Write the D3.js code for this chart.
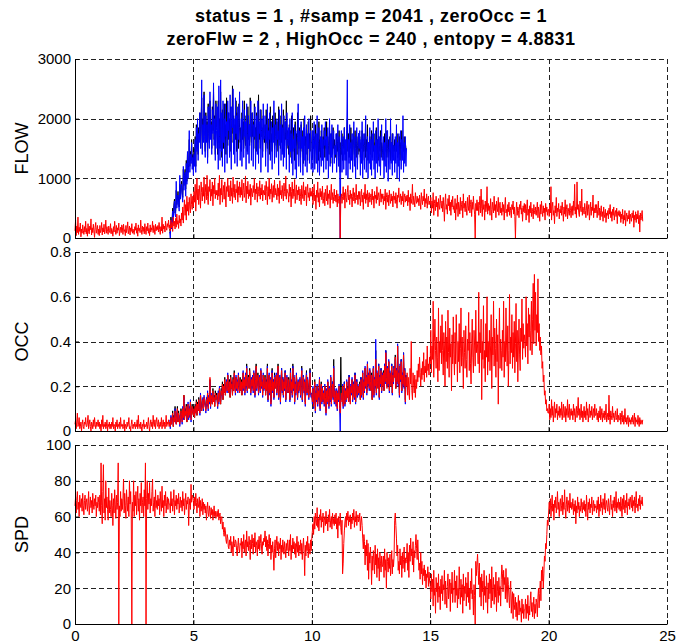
<!DOCTYPE html>
<html>
<head>
<meta charset="utf-8">
<script src="https://cdn.jsdelivr.net/npm/d3@7"></script>
<style>
  body { margin: 0; background: #fff; }
  svg text { font-family: "Liberation Sans", Arial, Helvetica, sans-serif; }
</style>
</head>
<body>
<div id="app"></div>
<script>
// sampling: one value every 0.025 h, red series start at 0 h, blue/black at 4 h
const dt = 0.025
const redStart = 0
const loopStart = 4

const titleLines = [
  'status = 1 , #samp = 2041 , zeroOcc = 1',
  'zeroFlw = 2 , HighOcc = 240 , entopy = 4.8831'
]

const xTicks = [0, 5, 10, 15, 20, 25]
const xTickLabels = ['0', '5', '10', '15', '20', '25']

const flowTicks = [0, 1000, 2000, 3000]
const flowTickLabels = ['0', '1000', '2000', '3000']
const occTicks = [0, 0.2, 0.4, 0.6, 0.8]
const occTickLabels = ['0', '0.2', '0.4', '0.6', '0.8']
const spdTicks = [0, 20, 40, 60, 80, 100]
const spdTickLabels = ['0', '20', '40', '60', '80', '100']

// FLOW, red, 0-24 h (one row per hour)
const flowRed = [
  120,300,40,200,90,350,60,180,110,250,20,150,80,220,130,60,190,100,280,70,160,30,240,110,70,200,140,320,50,170,90,230,120,10,180,260,80,140,210,60,
  150,40,210,90,130,260,50,170,100,230,70,140,300,80,190,110,60,200,130,90,240,70,160,120,30,190,100,280,140,60,210,80,170,130,250,40,120,180,90,220,
  180,60,230,110,140,40,210,90,160,270,70,130,200,50,170,110,240,80,150,100,60,190,130,250,80,170,30,220,120,160,90,300,140,60,200,110,180,70,240,130,
  60,190,120,250,80,160,40,220,100,170,130,280,90,210,150,60,230,120,190,140,210,100,260,140,60,190,120,350,80,230,150,200,100,280,170,130,240,190,300,160,
  220,120,300,170,260,110,350,200,280,150,330,180,400,230,290,160,380,250,320,200,420,300,520,250,480,640,380,560,300,700,450,600,380,680,520,420,740,560,480,700,
  520,780,600,900,450,720,1000,640,820,560,880,700,500,940,760,620,850,700,1020,580,760,900,640,1050,700,560,860,780,980,620,820,700,940,540,880,740,1000,660,800,720,
  800,640,920,700,1050,560,830,720,980,600,760,880,650,940,720,520,860,780,1000,690,880,740,620,960,700,840,580,1020,760,680,900,640,820,760,960,600,860,720,940,680,
  850,720,980,620,800,920,680,760,1040,590,870,740,950,660,810,700,900,550,830,760,690,880,760,1000,640,820,740,920,600,860,780,700,960,650,840,720,900,620,800,740,
  720,880,640,950,780,560,860,700,1000,650,820,740,910,600,790,880,680,970,720,830,760,640,900,700,840,580,960,720,800,660,880,740,620,920,780,700,1040,650,820,760,
  760,600,900,700,850,520,780,940,660,820,700,980,580,760,890,640,800,720,860,620,820,700,560,880,740,660,940,620,800,720,860,540,780,900,680,760,620,840,700,780,
  700,840,560,760,900,620,720,480,800,680,940,600,760,520,830,690,780,640,870,580,660,760,540,820,700,620,880,560,740,660,800,500,720,900,640,760,580,700,820,620,
  720,600,800,520,740,660,580,700,0,660,740,580,700,860,640,760,500,820,680,600,760,880,640,720,560,800,660,740,520,700,840,620,760,580,680,900,640,720,560,780,
  650,780,540,700,820,600,720,480,760,660,900,580,740,640,800,520,700,760,600,680,740,560,820,640,700,500,780,660,720,580,860,640,700,760,540,680,820,600,740,660,
  740,560,700,620,820,480,680,760,600,720,540,800,660,580,740,620,700,520,780,640,700,580,760,640,500,720,680,840,600,660,740,560,700,620,780,520,680,740,600,700,
  620,720,540,800,600,680,460,740,580,660,900,560,700,620,520,760,640,580,700,600,660,540,720,600,480,760,640,560,700,620,820,520,660,580,740,500,640,700,560,620,
  560,680,420,620,500,760,380,580,640,460,700,520,600,360,660,540,480,720,580,500,620,440,680,520,280,600,740,480,560,400,660,540,720,460,600,380,640,520,700,480,
  540,420,660,300,580,480,720,360,600,520,400,680,460,560,620,340,740,500,580,440,620,500,380,680,540,460,720,420,560,640,360,600,480,700,520,400,0,580,460,640,
  460,600,380,540,700,420,820,500,360,640,480,560,300,620,440,520,860,400,580,460,540,380,660,480,300,600,520,420,700,460,560,340,620,500,440,680,380,540,600,420,
  500,380,600,440,560,300,520,680,420,480,360,560,440,600,380,520,460,340,560,480,620,400,520,360,0,440,600,380,520,460,340,560,480,620,400,500,280,540,440,580,
  420,560,300,500,640,380,480,260,540,420,600,360,500,440,320,560,460,400,520,380,480,600,340,520,440,280,560,400,620,460,360,540,420,500,300,580,440,520,380,480,
  480,360,560,420,860,300,520,600,380,460,240,540,420,680,360,500,440,580,320,480,420,540,380,600,460,280,520,400,640,360,480,560,320,500,440,380,580,460,340,520,
  540,380,620,460,900,400,520,340,940,480,560,420,360,620,500,440,820,380,520,460,400,580,460,340,520,620,380,480,560,300,440,600,380,520,460,720,340,500,420,560,
  420,560,340,480,620,380,500,300,460,540,360,440,280,520,400,340,480,260,420,380,460,320,500,400,560,340,440,280,480,380,520,300,420,460,360,500,240,440,380,460,
  360,440,260,400,320,480,240,380,300,460,200,360,420,280,380,320,460,240,400,340,280,420,340,460,180,380,300,440,260,400,320,460,240,380,100,420,300,360,460,280
]

// FLOW, blue, 4-14 h
const flowBlue = [
  100,0,300,150,200,450,250,500,620,400,350,950,500,600,720,560,450,1050,650,800,900,700,600,1200,800,1000,1100,700,1250,900,1450,1000,1200,1800,1100,1400,1250,1600,1150,1350,
  1050,1400,1200,1650,1100,1850,1450,2000,1300,1750,1600,2100,1500,1800,2650,1400,1900,1600,2400,1700,1350,2050,1600,1900,1250,2200,1700,1500,2450,1650,1900,1400,2150,1750,2600,1550,2000,1300,2250,1800,
  1500,2200,1150,2550,1700,1300,2650,1450,2100,1200,2300,1600,2000,1100,2250,1700,1950,1250,2300,1800,2100,1350,2400,1700,1150,2200,1850,2500,1400,2000,1250,2350,1750,2050,1200,2200,1650,1950,2450,1300,
  1650,2000,1200,2300,1800,1350,2150,1700,1950,1150,2250,1750,1400,2050,1250,1900,1700,2300,1300,1850,2100,1200,1900,1700,2200,1150,1850,2050,1400,2300,1250,1950,1750,2150,1100,1800,2000,1350,2250,1650,
  1700,2050,1200,1900,1600,2250,1100,1800,1650,2100,1300,1750,1950,1150,1850,1600,2300,1250,1700,1900,1350,2000,1650,1800,1050,2150,1550,1900,1300,2250,1400,1850,1200,2050,1350,1750,1950,1150,2100,1650,
  1550,1850,1100,2000,1450,1750,1250,2100,1050,1650,1500,1900,1150,1800,1000,1550,1700,2250,1200,1600,1800,1100,1950,1500,1700,1050,1850,1300,2050,1200,1650,1900,1100,1750,1500,2000,1250,1600,1800,1150,
  1500,1800,1100,1650,1950,1150,1550,1750,1250,2050,1100,1600,1850,1050,1500,1700,1200,1900,1300,1650,1100,1800,1550,1950,1150,1700,1300,1850,1000,1600,2000,1200,1750,1350,1900,1100,1650,1800,1250,1550,
  1400,1750,1100,1600,1900,1200,1700,1350,0,1500,1800,1100,1550,1700,1150,1850,1300,1650,1050,1800,2650,1000,1650,1250,1900,1150,1600,1300,1750,1100,1550,1950,1200,1700,1000,1600,1850,1150,1500,1750,
  1500,1800,1050,1650,1250,1950,1000,1550,1750,1150,1600,2050,1100,1500,1700,1000,1600,1250,1850,1150,1650,1050,1750,1300,1950,1150,1550,1000,1800,1250,1650,1100,2000,1350,1200,1700,1050,1600,1900,1300,
  1450,1700,1000,1600,1200,2000,1100,1550,1800,950,1500,1650,1150,2000,1250,1600,1050,1750,1300,1550,1100,1700,1250,1900,1000,1600,1200,1750,950,1550,1800,1150,1650,1300,2050,1100,1600,1250,1700,1200,
  1500
]

// FLOW, black, 4-14 h
const flowBlack = [
  150,80,350,200,300,500,280,550,650,420,450,800,560,650,780,600,520,900,700,850,950,760,680,1150,880,1050,1150,820,1300,950,1400,1100,1250,1650,1200,1450,1300,1650,1250,1400,
  1150,1500,1250,1700,1200,1900,1500,1800,1400,1850,1650,2100,1550,1900,2350,1500,2000,1700,2450,1800,1450,2100,1650,1950,1350,2250,1750,1600,2300,1750,1950,1500,2200,1800,2450,1650,2050,1400,2300,1850,
  1800,1400,2300,1600,2000,1500,2450,1700,1350,2150,1800,1500,2250,1650,1900,1400,2350,1750,1550,2100,1650,2000,1450,2200,1800,1600,2550,1750,2050,1500,1900,1650,2300,1450,2100,1700,1500,2250,1850,1600,
  1850,1450,2100,1650,1950,1500,2300,1700,1550,2050,1800,1450,2200,1650,1900,1550,2350,1750,1600,2100,1700,1950,1500,2250,1650,1850,1450,2100,1750,1600,2400,1650,1900,1500,2150,1700,1850,1450,2050,1750,
  1600,1900,1450,2150,1700,1500,2000,1650,1850,1400,2200,1600,1750,1450,2050,1650,1900,1500,2100,1700,1550,1950,1700,1450,2200,1650,1800,1500,2050,1600,1900,1450,2150,1700,1550,1950,1650,2300,1500,1800,
  1700,1400,1900,1550,1800,1350,2050,1600,1450,1850,1700,1300,1950,1550,1750,1400,2100,1600,1500,1850,1650,1350,1900,1600,1450,1800,1250,2000,1550,1700,1400,1850,1600,1300,1950,1500,1750,1450,2050,1600,
  1600,1350,1800,1500,1700,1250,1900,1550,1400,1750,1600,1300,1950,1450,1650,1350,1800,1550,1400,1700,1500,1850,1350,1650,1500,1950,1300,1700,1550,1400,1800,1500,1250,1750,1600,1400,1850,1500,1650,1350,
  1550,1350,1750,1450,1650,1300,1800,1500,1100,1600,1400,1750,1300,1650,1500,1850,1400,1600,1300,1700,2000,1450,1750,1350,1600,1500,1850,1400,1650,1300,1750,1550,1400,1800,1500,1350,1700,1550,1400,1750,
  1450,1700,1350,1600,1500,1800,1300,1650,1450,1550,1750,1350,1650,1450,1900,1300,1600,1500,1700,1400,1550,1800,1350,1650,1450,1750,1300,1600,1500,1850,1400,1650,1300,1700,1550,1450,1800,1350,1600,1500,
  1400,1650,1300,1750,1450,1600,1350,1800,1500,1350,1650,1450,1700,1300,1600,1500,1750,1350,1550,1450,1650,1300,1600,1450,1750,1350,1550,1400,1700,1300,1600,1500,1800,1350,1550,1450,1700,1300,1600,1500,
  1500
]

// OCC in hundredths, red, 0-24 h
const occRed = [
  3,5,1,4,8,2,3,6,1,2,4,0,3,5,2,1,4,3,6,2,2,4,7,1,3,5,2,0,4,3,1,5,2,6,3,1,4,2,3,5,
  2,4,1,3,0,5,2,7,1,3,2,4,1,2,5,0,3,2,4,1,3,1,4,2,6,1,3,2,0,4,2,5,1,3,2,4,1,6,2,3,
  3,1,2,5,0,3,2,1,4,2,3,6,1,2,0,3,5,2,1,3,2,4,1,3,2,5,1,7,2,3,1,4,2,0,3,2,5,1,3,2,
  2,4,1,3,6,2,0,3,5,2,4,1,7,3,2,5,1,4,6,3,2,5,1,3,4,2,6,1,3,5,2,4,1,3,7,2,4,3,5,2,
  4,2,6,3,5,8,2,6,4,9,5,3,7,10,4,8,6,3,5,9,7,4,10,6,16,5,9,7,11,4,8,12,6,10,7,13,5,9,11,8,
  7,10,6,11,8,13,7,12,9,14,10,8,16,11,9,12,14,10,15,13,11,9,14,12,17,10,15,13,24,11,16,14,12,18,13,15,11,17,14,16,
  14,11,17,13,19,15,12,18,16,21,14,20,17,23,16,19,22,18,25,20,17,22,15,24,19,21,16,23,18,26,20,17,24,19,22,18,25,21,17,23,
  18,22,16,21,26,19,23,17,25,20,28,18,22,24,19,27,21,17,23,20,24,18,26,21,16,23,29,19,22,25,17,21,24,18,27,20,22,16,25,19,
  19,24,16,22,18,28,14,21,25,17,23,12,20,26,18,22,15,24,19,21,25,17,22,29,15,20,24,13,21,27,18,23,16,22,19,26,14,21,24,18,
  17,23,20,14,26,18,22,16,28,19,24,13,21,17,25,20,15,22,18,20,23,16,21,27,14,19,24,18,22,12,20,25,17,23,19,15,21,26,17,16,
  16,13,19,11,15,22,9,17,14,20,12,18,15,23,10,16,21,13,19,14,17,12,20,15,8,18,13,22,16,11,19,14,24,12,17,21,15,28,13,18,
  15,12,18,10,17,14,20,11,8,14,17,13,20,11,16,21,12,18,14,22,15,19,13,24,16,12,20,17,23,14,18,21,15,25,13,19,22,16,20,17,
  17,21,14,23,16,19,26,15,22,18,28,20,24,17,30,21,25,19,27,22,18,25,14,21,28,16,23,20,32,17,26,22,19,29,15,24,21,27,18,25,
  20,26,18,29,22,35,24,19,28,21,31,18,26,23,20,29,17,25,22,28,24,33,19,27,22,38,21,26,16,29,23,31,18,25,21,34,20,27,13,24,
  20,26,16,24,18,14,28,21,40,18,14,26,21,17,25,15,23,19,27,22,30,24,33,26,20,28,23,31,25,35,22,29,26,32,24,38,27,30,25,33,
  30,45,26,38,32,58,24,40,50,36,28,42,33,22,55,27,40,35,47,30,52,36,25,44,38,20,49,31,42,28,54,35,24,46,33,39,18,43,30,51,
  34,25,44,30,52,38,22,40,31,48,26,37,55,29,42,33,19,45,35,28,47,32,24,41,36,53,27,44,30,21,39,50,33,26,45,38,29,54,35,40,
  38,30,62,26,44,35,50,14,40,32,56,28,36,22,48,33,60,25,40,31,45,27,38,52,19,42,34,58,29,46,37,24,50,31,43,12,39,55,28,41,
  36,27,45,33,58,24,40,31,55,38,29,47,20,36,61,30,42,35,52,28,44,33,49,26,39,57,31,45,22,38,50,34,27,46,40,59,32,48,37,43,
  40,33,60,38,48,30,55,42,52,36,45,58,34,50,66,39,70,45,62,38,52,44,68,40,48,36,42,34,38,28,31,22,25,16,18,12,14,9,10,8,
  8,12,5,10,6,14,7,11,4,9,13,6,10,8,12,5,9,7,11,6,10,7,13,5,9,12,6,8,11,4,10,7,14,6,9,12,5,8,10,7,
  9,5,12,7,10,4,8,11,6,9,15,7,10,5,8,12,6,9,4,8,11,6,9,5,13,7,10,4,8,12,6,9,7,11,5,8,10,6,12,7,
  7,10,5,8,4,9,6,11,5,7,10,4,8,6,9,5,7,12,4,6,8,5,16,6,3,9,7,5,11,6,8,4,7,9,5,6,10,4,7,5,
  5,8,3,6,9,4,7,3,5,10,4,6,3,5,7,2,6,4,5,3,6,4,7,3,5,8,2,6,4,5,3,7,4,2,6,3,5,4,3,5
]

// OCC in hundredths, blue, 4-14 h
const occBlue = [
  5,1,7,3,6,7,3,5,5,10,4,3,8,9,5,7,7,2,6,8,8,3,11,5,15,6,8,8,10,5,7,13,5,11,6,14,4,10,10,9,
  8,9,7,10,9,12,8,11,10,13,11,7,17,10,10,11,15,9,16,12,12,8,15,11,18,9,16,12,22,10,17,13,13,17,14,14,12,16,15,15,
  15,10,18,12,20,14,13,17,17,20,15,19,18,22,17,18,23,17,26,19,18,21,16,23,20,20,17,22,19,25,21,16,25,18,23,17,26,20,18,22,
  19,21,17,20,27,18,24,16,26,19,29,17,23,23,20,26,22,16,24,19,25,17,27,20,15,24,28,18,23,24,16,22,25,17,28,19,23,15,26,18,
  20,23,17,21,19,29,13,22,26,16,24,11,21,27,17,23,14,25,20,20,26,16,23,28,14,21,25,12,22,28,17,24,15,23,18,27,13,22,25,17,
  18,22,21,13,27,17,23,15,29,18,25,12,22,16,26,19,14,23,17,21,24,15,22,28,13,20,25,17,23,11,21,26,16,24,18,14,22,27,16,15,
  17,12,20,10,16,21,8,18,13,21,11,19,14,24,9,17,20,12,20,13,18,11,21,14,7,19,12,23,15,10,20,13,25,11,18,22,14,29,12,19,
  16,11,19,9,18,13,21,10,0,15,16,14,21,10,17,22,11,19,13,23,16,18,14,25,15,13,21,16,24,13,19,22,14,26,12,20,23,15,21,16,
  18,20,15,24,15,20,27,14,23,17,29,19,25,16,31,20,26,18,28,21,19,24,15,22,29,15,24,19,41,16,27,21,20,30,14,25,20,28,17,26,
  21,25,19,30,21,36,23,20,29,20,32,17,27,22,21,30,16,26,21,29,25,32,20,28,21,39,20,27,15,30,22,32,17,26,20,35,19,28,12,25,
  21
]

// OCC in hundredths, black, 4-14 h
const occBlack = [
  4,3,6,4,5,9,2,7,4,11,5,4,7,11,4,9,6,4,5,10,7,5,10,7,16,5,10,7,12,4,9,12,7,10,8,13,6,9,12,8,
  7,11,6,12,8,14,7,13,9,15,10,9,16,12,9,13,14,11,15,14,11,10,14,13,17,11,15,14,23,12,16,15,12,19,13,16,11,18,14,17,
  14,12,17,14,19,16,12,19,16,22,14,21,17,24,16,20,22,19,25,21,17,23,15,25,19,22,16,24,18,27,20,18,24,20,22,19,25,22,17,24,
  18,23,16,22,26,20,23,18,25,21,30,18,22,25,19,28,21,18,23,21,24,19,26,22,16,24,30,20,22,26,17,22,24,19,27,21,22,17,25,20,
  19,25,16,23,18,30,14,22,25,18,23,13,20,28,18,23,15,26,19,22,25,18,22,30,15,21,24,14,21,28,18,24,16,23,19,27,14,22,24,19,
  17,24,20,14,28,18,22,17,30,19,24,13,21,18,25,21,15,22,18,21,23,17,21,29,14,20,24,19,22,13,20,27,17,23,20,16,21,28,17,17,
  16,14,19,12,15,23,10,17,15,20,13,18,16,23,11,16,22,13,19,15,17,13,20,16,9,18,14,22,17,12,19,15,24,13,17,22,15,32,14,18,
  15,13,18,11,17,15,20,12,14,33,17,14,20,12,16,22,12,18,15,22,15,20,13,25,16,13,20,18,23,15,18,22,15,26,13,19,23,16,20,18,
  17,22,14,24,16,20,26,16,22,19,28,21,24,18,30,22,25,20,27,23,18,26,14,22,28,17,23,21,36,18,26,23,19,30,15,25,21,28,18,26,
  20,27,18,30,22,36,24,20,28,22,31,19,26,24,20,30,17,26,22,29,24,34,19,28,22,38,22,26,17,29,23,32,18,26,21,35,20,28,14,25,
  22
]

// SPD, red, 0-24 h
const spdRed = [
  66,71,62,69,74,64,68,60,72,67,65,70,63,73,66,61,69,72,64,68,70,63,67,74,61,66,71,65,69,62,73,67,64,70,66,72,60,68,65,71,
  68,63,72,61,90,66,56,74,89,62,70,58,80,65,71,64,58,76,62,69,64,60,73,66,55,70,62,75,67,59,72,64,68,90,0,66,60,74,63,70,
  64,70,81,62,73,66,59,75,68,63,71,60,80,67,74,62,0,68,63,80,60,72,66,74,61,69,77,63,70,58,73,66,79,62,68,71,60,75,66,90,
  0,70,80,64,73,67,79,62,70,66,74,81,63,68,71,60,75,65,69,64,72,66,70,61,74,67,63,77,65,69,60,72,66,74,62,68,71,64,70,67,
  67,62,74,66,70,63,68,75,61,69,66,72,64,70,67,73,62,68,71,65,69,63,74,66,70,61,68,73,64,69,67,71,55,66,70,64,78,68,72,71,
  69,64,71,66,73,68,62,70,65,67,71,60,69,63,66,70,61,68,64,67,62,66,58,64,68,62,60,66,63,59,65,61,64,58,62,66,60,63,59,61,
  63,60,64,58,61,62,56,59,60,53,57,51,49,54,52,47,45,50,48,43,42,47,44,49,40,46,43,38,49,45,43,47,46,41,38,44,48,42,40,45,
  44,48,37,46,42,50,40,45,47,38,52,43,46,41,49,44,36,47,42,50,45,39,48,43,51,40,46,44,38,47,42,49,41,45,50,43,39,46,44,48,
  46,52,43,49,41,47,38,45,50,42,48,36,44,40,46,39,30,42,47,37,44,49,41,46,38,45,42,48,36,44,40,47,43,39,46,42,37,45,41,47,
  43,38,47,41,50,36,44,40,48,42,46,39,45,37,43,49,40,46,38,44,41,47,39,45,36,43,48,40,27,44,38,46,41,49,37,45,42,39,47,41,
  48,52,56,50,60,53,62,57,55,65,54,59,52,61,58,64,54,60,57,62,51,58,60,55,63,56,59,52,61,57,64,54,58,60,53,62,56,59,55,61,
  56,62,53,59,48,60,55,57,62,54,50,58,28,34,45,52,57,60,54,62,58,63,55,60,57,61,53,59,56,62,58,64,54,60,57,63,55,59,61,57,
  58,62,52,57,60,55,48,42,50,46,33,44,38,47,30,45,25,40,34,43,36,22,38,30,41,36,28,44,33,39,26,42,31,37,24,40,34,29,38,32,
  33,38,26,42,30,36,20,40,35,29,37,31,39,27,34,41,28,36,32,38,58,62,55,48,38,44,30,35,28,42,33,38,26,40,31,36,43,29,37,34,
  36,45,30,40,26,44,35,48,38,42,33,46,29,41,37,44,50,42,36,47,38,30,34,25,40,28,35,22,31,27,33,24,30,20,28,26,32,21,29,24,
  22,14,28,18,25,10,30,16,20,6,26,18,23,12,28,15,21,8,25,17,27,13,22,19,30,11,24,16,9,21,28,14,19,25,7,23,17,29,12,20,
  19,30,12,24,16,27,9,20,14,32,18,11,25,15,22,6,28,13,21,17,26,10,23,15,29,12,20,8,24,17,31,14,19,5,22,16,0,35,27,33,
  39,30,22,34,15,26,10,28,18,24,8,30,16,21,12,27,19,6,23,14,28,17,25,9,32,13,20,26,11,22,15,29,7,24,18,12,26,16,21,10,
  25,33,28,18,30,22,26,14,31,19,12,26,22,15,9,20,24,6,14,18,3,17,11,8,15,4,12,2,10,16,5,13,7,9,1,14,6,11,3,8,
  8,14,3,11,6,16,2,10,5,13,18,7,12,4,9,15,3,11,6,14,12,4,15,20,9,17,24,13,30,24,32,20,28,38,35,45,42,50,58,55,
  62,68,64,70,60,66,72,63,67,58,69,65,71,62,66,74,64,68,60,67,70,63,66,72,61,68,64,75,65,59,67,71,63,69,66,62,73,65,68,64,
  65,70,61,67,63,69,56,66,62,71,64,68,60,66,63,70,65,62,68,64,69,63,67,60,72,65,58,68,64,70,62,67,65,71,61,66,69,63,67,65,
  66,62,69,64,71,60,67,63,72,65,68,61,70,66,64,73,62,67,69,65,63,70,66,61,68,72,64,67,60,69,65,71,63,66,74,62,68,65,70,64,
  68,63,71,66,60,70,64,72,67,62,69,65,73,61,68,66,70,64,71,68,65,72,63,69,66,71,62,68,74,65,67,63,70,66,72,64,69,67,71,66
]

const width = 677
const height = 643
const left = 75
const right = 667

const svg = d3.select('#app')
  .append('svg')
  .attr('width', width)
  .attr('height', height)

const x = d3.scaleLinear().domain([0, 25]).range([left, right])

const toPoints = (vals, start, unit = 1) => vals.map((v, i) => [start + i * dt, v * unit])

const panels = [
  { name: 'FLOW', top: 59, bottom: 238, domain: [0, 3000], ticks: flowTicks, labels: flowTickLabels, showX: false,
    series: [
      { color: '#000000', pts: toPoints(flowBlack, loopStart) },
      { color: '#0000ff', pts: toPoints(flowBlue, loopStart) },
      { color: '#ff0000', pts: toPoints(flowRed, redStart) }
    ] },
  { name: 'OCC', top: 252, bottom: 431, domain: [0, 0.8], ticks: occTicks, labels: occTickLabels, showX: false,
    series: [
      { color: '#000000', pts: toPoints(occBlack, loopStart, 0.01) },
      { color: '#0000ff', pts: toPoints(occBlue, loopStart, 0.01) },
      { color: '#ff0000', pts: toPoints(occRed, redStart, 0.01) }
    ] },
  { name: 'SPD', top: 445, bottom: 624, domain: [0, 100], ticks: spdTicks, labels: spdTickLabels, showX: true,
    series: [
      { color: '#ff0000', pts: toPoints(spdRed, redStart) }
    ] }
]

const drawPanel = (p) => {
  const y = d3.scaleLinear().domain(p.domain).range([p.bottom, p.top])
  const g = svg.append('g')

  // dashed grid, MATLAB style
  g.selectAll('.gx')
    .data(xTicks.slice(1))
    .enter()
    .append('line')
    .attr('x1', d => Math.round(x(d)) + 0.5)
    .attr('x2', d => Math.round(x(d)) + 0.5)
    .attr('y1', p.top)
    .attr('y2', p.bottom)
    .attr('stroke', '#222')
    .attr('stroke-dasharray', '5,3')

  g.selectAll('.gy')
    .data(p.ticks.slice(1))
    .enter()
    .append('line')
    .attr('x1', left)
    .attr('x2', right)
    .attr('y1', d => Math.round(y(d)) + 0.5)
    .attr('y2', d => Math.round(y(d)) + 0.5)
    .attr('stroke', '#222')
    .attr('stroke-dasharray', '5,3')

  const line = d3.line().x(d => x(d[0])).y(d => y(d[1]))

  p.series.forEach(s => {
    g.append('path')
      .datum(s.pts)
      .attr('fill', 'none')
      .attr('stroke', s.color)
      .attr('stroke-width', 1)
      .attr('d', line)
  })

  g.append('g')
    .attr('transform', `translate(${left},0)`)
    .call(d3.axisLeft(y)
      .tickValues(p.ticks)
      .tickFormat((d, i) => p.labels[i])
      .tickSizeInner(-4)
      .tickSizeOuter(0)
      .tickPadding(4))
    .attr('font-size', 15)

  g.append('g')
    .attr('transform', `translate(0,${p.bottom})`)
    .call(d3.axisBottom(x)
      .tickValues(xTicks)
      .tickFormat((d, i) => p.showX ? xTickLabels[i] : '')
      .tickSizeInner(-4)
      .tickSizeOuter(0)
      .tickPadding(6))
    .attr('font-size', 15)

  svg.append('text')
    .attr('transform', `translate(28,${(p.top + p.bottom) / 2}) rotate(-90)`)
    .attr('text-anchor', 'middle')
    .attr('font-size', 18)
    .text(p.name)
}

panels.forEach(drawPanel)

svg.selectAll('.title')
  .data(titleLines)
  .enter()
  .append('text')
  .attr('x', (left + right) / 2)
  .attr('y', (d, i) => 22 + i * 23)
  .attr('text-anchor', 'middle')
  .attr('font-size', 18)
  .attr('letter-spacing', 0.5)
  .attr('font-weight', 'bold')
  .text(d => d)
</script>
</body>
</html>
